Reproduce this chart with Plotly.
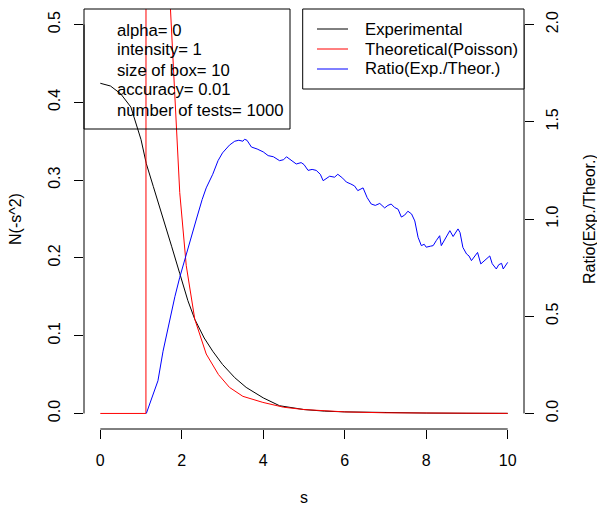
import plotly.graph_objects as go

# ---------------- data ----------------
s_exp = [0, 0.25, 0.5, 0.75, 1.0, 1.13, 1.3, 1.54, 1.75, 1.95, 2.15, 2.32, 2.55, 2.76,
         3.0, 3.3, 3.58, 4.0, 4.4, 5.0, 5.5, 6.0, 7.0, 8.0, 9.0, 10.0]
n_exp = [0.4245, 0.421, 0.411, 0.394, 0.352, 0.321, 0.292, 0.252, 0.215, 0.180, 0.145,
         0.121, 0.097, 0.080, 0.063, 0.046, 0.0335, 0.020, 0.0099, 0.005, 0.003, 0.002,
         0.001, 0.0005, 0.0002, 0.0001]

s_theo = [0, 0.5, 1.0, 1.12, 1.13, 1.3, 1.5, 1.72, 1.82, 1.95, 2.11, 2.32, 2.6, 2.9,
          3.17, 3.5, 3.99, 4.5, 5.0, 6.0, 7.0, 8.0, 10.0]
n_theo = [0, 0, 0, 0, 3.0, 1.2, 0.75, 0.53, 0.43, 0.284, 0.19, 0.121, 0.0764, 0.05,
          0.0335, 0.022, 0.0142, 0.008, 0.005, 0.002, 0.0008, 0.0003, 0.0001]

s_ratio = [1.13, 1.25, 1.415, 1.54, 1.7, 1.83, 1.95, 2.07, 2.2, 2.36, 2.5, 2.6, 2.76,
           2.89, 3.0, 3.17, 3.3, 3.4, 3.5, 3.54, 3.6, 3.71, 3.85, 4.0, 4.12, 4.25, 4.40,
           4.5, 4.57, 4.7, 4.81, 4.93, 5.0, 5.10, 5.2, 5.30, 5.4, 5.47, 5.63, 5.75, 5.83,
           5.95, 6.04, 6.15, 6.24, 6.32, 6.45, 6.55, 6.65, 6.75, 6.86, 6.98, 7.06, 7.14,
           7.22, 7.31, 7.39, 7.47, 7.55, 7.64, 7.72, 7.80, 7.88, 7.95, 8.0, 8.1, 8.17,
           8.25, 8.33, 8.37, 8.47, 8.58, 8.66, 8.72, 8.78, 8.83, 8.90, 8.99, 9.05, 9.11,
           9.2, 9.26, 9.34, 9.45, 9.56, 9.62, 9.72, 9.78, 9.85, 9.89, 10.0]
ratio = [0, 0.07, 0.168, 0.32, 0.48, 0.60, 0.70, 0.79, 0.89, 1.0, 1.10, 1.16, 1.23,
         1.30, 1.34, 1.38, 1.40, 1.405, 1.40, 1.41, 1.405, 1.37, 1.36, 1.345, 1.326,
         1.32, 1.30, 1.305, 1.32, 1.30, 1.283, 1.29, 1.28, 1.25, 1.255, 1.25, 1.23,
         1.197, 1.22, 1.215, 1.23, 1.21, 1.19, 1.18, 1.17, 1.146, 1.16, 1.11, 1.077,
         1.07, 1.08, 1.057, 1.07, 1.077, 1.06, 1.05, 1.01, 1.02, 1.04, 1.026, 0.99,
         0.906, 0.863, 0.87, 0.855, 0.86, 0.863, 0.89, 0.914, 0.863, 0.90, 0.94, 0.91,
         0.93, 0.949, 0.93, 0.854, 0.82, 0.81, 0.786, 0.81, 0.828, 0.769, 0.79, 0.81,
         0.77, 0.743, 0.765, 0.772, 0.743, 0.777]

info_labels = ["alpha= 0", "intensity= 1", "size of box= 10", "accuracy= 0.01",
               "number of tests= 1000"]
series_names = ["Experimental", "Theoretical(Poisson)", "Ratio(Exp./Theor.)"]
series_colors = ["black", "red", "blue"]
x_ticks = [0, 2, 4, 6, 8, 10]
y_ticks = [0.0, 0.1, 0.2, 0.3, 0.4, 0.5]
y2_ticks = [0.0, 0.5, 1.0, 1.5, 2.0]

FONT = "Liberation Sans, Arial, Helvetica, sans-serif"
FS = 16
LFS = 16.7

# the page places the figure at an 8px body offset; margins compensate for it
W, H = 605, 505
ML, MT = 76, 1
PW, PH = 440, 420
MR, MB = W - ML - PW, H - MT - PH


def px_x(sx):
    """screen pixel x -> paper coordinate"""
    return (sx - 8 - ML) / PW


def px_y(sy):
    """screen pixel y -> paper coordinate"""
    return 1 - (sy - 8 - MT) / PH


fig = go.Figure()
fig.add_trace(go.Scatter(x=s_exp, y=n_exp, mode="lines", name=series_names[0],
                         line=dict(color=series_colors[0], width=1)))
fig.add_trace(go.Scatter(x=s_theo, y=n_theo, mode="lines", name=series_names[1],
                         line=dict(color=series_colors[1], width=1)))
fig.add_trace(go.Scatter(x=s_ratio, y=ratio, mode="lines", name=series_names[2],
                         line=dict(color=series_colors[2], width=1), yaxis="y2"))

axis_common = dict(showgrid=False, zeroline=False, showline=False, ticks="outside",
                   ticklen=9, tickwidth=1, tickcolor="black",
                   tickfont=dict(family=FONT, size=FS, color="black"))

fig.update_layout(
    width=W, height=H,
    margin=dict(l=ML, r=MR, t=MT, b=MB, pad=0),
    paper_bgcolor="white", plot_bgcolor="white",
    font=dict(family=FONT, size=FS, color="black"),
    xaxis=dict(range=[-0.4, 10.4], tickvals=x_ticks, ticklabelstandoff=8, **axis_common),
    yaxis=dict(range=[-0.02, 0.52], tickvals=y_ticks, tickformat=".1f", tickangle=-90,
               ticklabelstandoff=8, **axis_common),
    yaxis2=dict(range=[-0.08, 2.08], tickvals=y2_ticks, tickformat=".1f", tickangle=-90,
                overlaying="y", side="right", ticklabelstandoff=5, **axis_common),
    showlegend=False,
)

# R-style axis lines spanning first to last tick
fig.add_shape(type="line", xref="x", yref="paper", x0=x_ticks[0], x1=x_ticks[-1], y0=0, y1=0,
              line=dict(color="black", width=1))
fig.add_shape(type="line", xref="paper", yref="y", x0=0, x1=0, y0=y_ticks[0], y1=y_ticks[-1],
              line=dict(color="black", width=1))
fig.add_shape(type="line", xref="paper", yref="y2", x0=1, x1=1, y0=y2_ticks[0], y1=y2_ticks[-1],
              line=dict(color="black", width=1))

# parameter box (top-left), transparent
fig.add_shape(type="rect", xref="paper", yref="paper", x0=0, x1=px_x(290), y0=px_y(129), y1=1,
              line=dict(color="black", width=1), layer="above")
for i, t in enumerate(info_labels):
    fig.add_annotation(text=t, xref="paper", yref="paper", x=px_x(115),
                       y=px_y(30 + 20 * i), xanchor="left", yanchor="middle",
                       showarrow=False, font=dict(family=FONT, size=LFS, color="black"))

# series legend box (top-right)
fig.add_shape(type="rect", xref="paper", yref="paper", x0=px_x(302.7), x1=1, y0=px_y(89), y1=1,
              line=dict(color="black", width=1), fillcolor="white", layer="above")
for i, (nm, col) in enumerate(zip(series_names, series_colors)):
    yy = px_y(29 + 20 * i)
    fig.add_shape(type="line", xref="paper", yref="paper", x0=px_x(317), x1=px_x(348),
                  y0=yy, y1=yy, line=dict(color=col, width=1), layer="above")
    fig.add_annotation(text=nm, xref="paper", yref="paper", x=px_x(362.7), y=yy,
                       xanchor="left", yanchor="middle", showarrow=False,
                       font=dict(family=FONT, size=LFS, color="black"))

# axis titles
fig.add_annotation(text="s", xref="paper", yref="paper", x=0.5, y=0, yshift=-68,
                   xanchor="center", yanchor="middle", showarrow=False)
fig.add_annotation(text="N(-s^2)", xref="paper", yref="paper", x=0, y=0.5, xshift=-69,
                   textangle=-90, xanchor="center", yanchor="middle", showarrow=False)
fig.add_annotation(text="Ratio(Exp./Theor.)", xref="paper", yref="paper", x=1, y=0.5,
                   xshift=65, textangle=-90, xanchor="center", yanchor="middle",
                   showarrow=False)

fig.write_html("out.html")
